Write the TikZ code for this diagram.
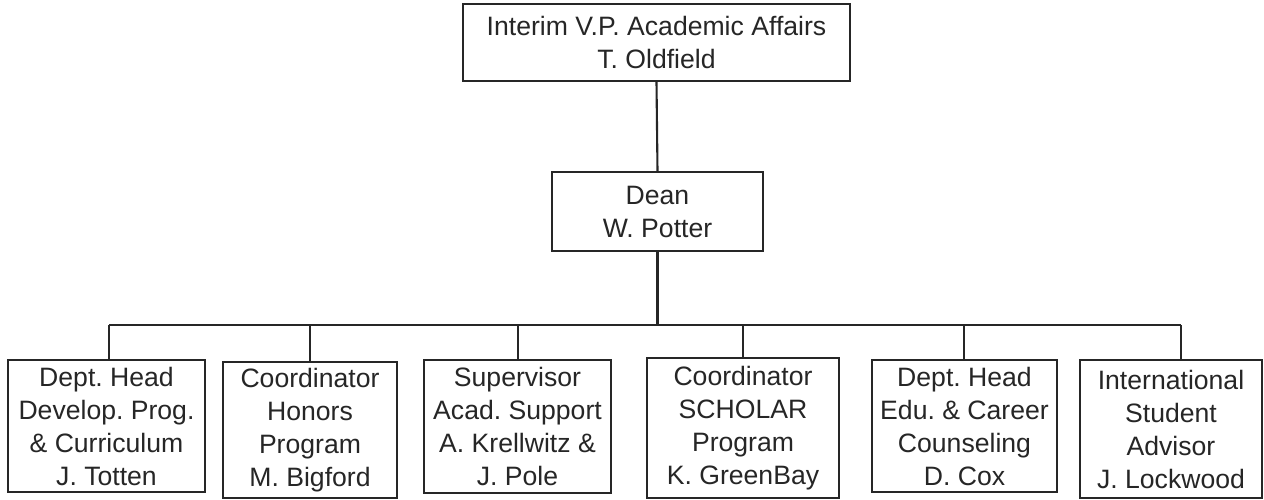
\documentclass[tikz,border=0pt]{standalone}
\usepackage{fontspec}
\setmainfont{Liberation Sans}
\begin{document}
\frenchspacing
\begin{tikzpicture}[x=1pt,y=-1pt,
  box/.style={draw=black!85, line width=2.3pt, inner sep=0pt, align=center,
    font=\fontsize{26.6}{33}\selectfont\frenchspacing, text=black!85},
  link/.style={draw=black!85, line width=2.1pt}]
\useasboundingbox[fill=white] (0,0) rectangle (1264,499);
% top levels
\node[box, minimum width=387pt, minimum height=77pt] (vp) at (656.5,42.5)
  {Interim V.P. Academic Affairs\\T. Oldfield};
\node[box, minimum width=211pt, minimum height=79pt] (dean) at (657.5,211.5)
  {Dean\\W. Potter};
% bottom row
\node[box, minimum width=197pt, minimum height=132pt] (b1) at (106.5,426)
  {Dept. Head\\Develop. Prog.\\\& Curriculum\\J. Totten};
\node[box, minimum width=174pt, minimum height=136pt] (b2) at (310,430)
  {Coordinator\\Honors\\Program\\M. Bigford};
\node[box, minimum width=187pt, minimum height=133pt] (b3) at (517.5,426.5)
  {Supervisor\\Acad. Support\\A. Krellwitz \&\\J. Pole};
\node[box, minimum width=192pt, minimum height=140pt] (b4) at (743,428)
  {Coordinator\\SCHOLAR\\Program\\K. GreenBay};
\node[box, minimum width=185pt, minimum height=132pt] (b5) at (964.5,426)
  {Dept. Head\\Edu. \& Career\\Counseling\\D. Cox};
\node[box, minimum width=182pt, minimum height=138pt] (b6) at (1171,429)
  {International\\Student\\Advisor\\J. Lockwood};
% junctions on the bar
\coordinate (j1) at (109,325);
\coordinate (j2) at (310,325);
\coordinate (j3) at (518,325);
\coordinate (j4) at (743,325);
\coordinate (j5) at (964,325);
\coordinate (j6) at (1181,325);
% connectors
\draw[link] (vp.south) -- (dean.north);
\draw[link] (dean.south) -- (dean.south |- j1);
\draw[link] (j1) -- (j6);
\draw[link] (j1) -- (j1 |- b1.north);
\draw[link] (j2) -- (j2 |- b2.north);
\draw[link] (j3) -- (j3 |- b3.north);
\draw[link] (j4) -- (j4 |- b4.north);
\draw[link] (j5) -- (j5 |- b5.north);
\draw[link] (j6) -- (j6 |- b6.north);
\end{tikzpicture}
\end{document}
